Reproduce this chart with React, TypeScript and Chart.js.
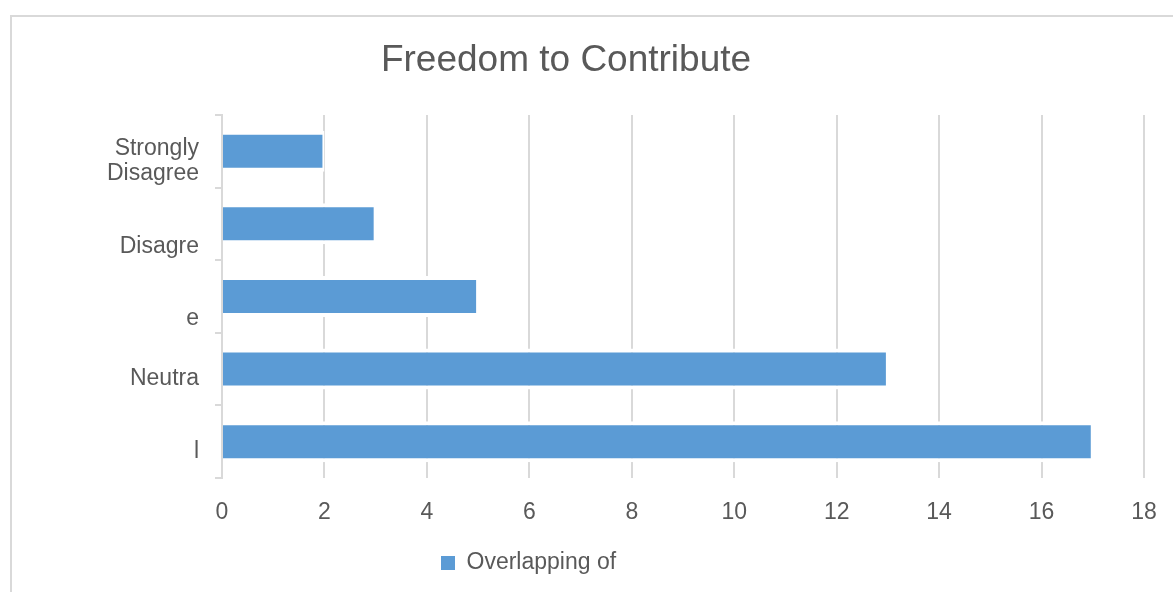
import React, { useEffect, useRef } from "react";
import { Chart, registerables } from "chart.js";

Chart.register(...registerables);

// ---- data ----
const TITLE = "Freedom to Contribute";
const CATEGORIES: (string | string[])[] = [
  ["Strongly", "Disagree"],
  ["", "Disagre"],
  ["", "e"],
  "Neutra",
  "l",
];
const SERIES_LABEL = "Overlapping of";
const VALUES = [2, 3, 5, 13, 17];
const X_MIN = 0;
const X_MAX = 18;
const X_STEP = 2;

// ---- style ----
const FONT = "'Liberation Sans', Arial, Helvetica, sans-serif";
const TEXT = "#595959";
const GRID = "#d9d9d9";
const BAR = "#5b9bd5";
const W = 1161;
const H = 575;

const placeBoxes = {
  id: "placeBoxes",
  afterLayout(chart: any) {
    const t = chart.titleBlock;
    if (t) {
      t.left = 554 - 400;
      t.right = 554 + 400;
    }
    const l = chart.legend;
    if (l) {
      l.left = 409;
    }
  },
};

export default function App() {
  const ref = useRef<HTMLCanvasElement | null>(null);

  useEffect(() => {
    if (!ref.current) return;
    Chart.defaults.font.family = FONT;
    Chart.defaults.color = TEXT;
    const chart = new Chart(ref.current, {
      type: "bar",
      data: {
        labels: CATEGORIES as any,
        datasets: [
          {
            label: SERIES_LABEL,
            data: VALUES,
            backgroundColor: BAR,
            borderColor: "#ffffff",
            borderWidth: { top: 4, bottom: 4, left: 0, right: 2 } as any,
            borderSkipped: false as any,
            barPercentage: 0.565,
            categoryPercentage: 1,
          },
        ],
      },
      options: {
        indexAxis: "y",
        responsive: false,
        animation: false,
        events: [],
        layout: { padding: { left: 0, right: 29, top: 0, bottom: 7.4 } },
        scales: {
          x: {
            min: X_MIN,
            max: X_MAX,
            ticks: {
              stepSize: X_STEP,
              color: TEXT,
              padding: 5,
              font: { family: FONT, size: 23, lineHeight: 1.2 },
            },
            grid: {
              color: GRID,
              lineWidth: 2,
              drawTicks: true,
              tickLength: 16,
              tickColor: "rgba(0,0,0,0)",
            },
            border: { display: false },
          },
          y: {
            afterFit: (scale: any) => {
              scale.width = 210;
            },
            ticks: {
              color: TEXT,
              padding: 16,
              autoSkip: false,
              labelOffset: 10,
              font: { family: FONT, size: 23, lineHeight: 1.1 },
            },
            grid: {
              offset: true,
              color: GRID,
              lineWidth: 2,
              drawOnChartArea: false,
              drawTicks: true,
              tickLength: 7,
            },
            border: { display: true, color: GRID, width: 2 },
          },
        },
        plugins: {
          title: {
            display: true,
            text: TITLE,
            color: TEXT,
            align: "center",
            font: { family: FONT, size: 37, weight: "normal", lineHeight: 1.2 },
            padding: { top: 22, bottom: 31.5 },
          },
          legend: {
            display: true,
            position: "bottom",
            align: "start",
            labels: {
              color: TEXT,
              boxWidth: 14,
              boxHeight: 14,
              padding: 20,
              font: { family: FONT, size: 23 },
              generateLabels: (c: any) =>
                (Chart.defaults.plugins.legend.labels as any)
                  .generateLabels(c)
                  .map((it: any) => ({ ...it, lineWidth: 0, strokeStyle: "rgba(0,0,0,0)" })),
            },
          },
          tooltip: { enabled: false },
        },
      },
      plugins: [placeBoxes],
    } as any);
    return () => chart.destroy();
  }, []);

  return (
    <div
      style={{
        position: "fixed",
        left: 10,
        top: 15,
        border: `2px solid ${GRID}`,
        width: W,
        height: H,
        background: "#ffffff",
      }}
    >
      <canvas ref={ref} width={W} height={H} style={{ display: "block" }} />
    </div>
  );
}
